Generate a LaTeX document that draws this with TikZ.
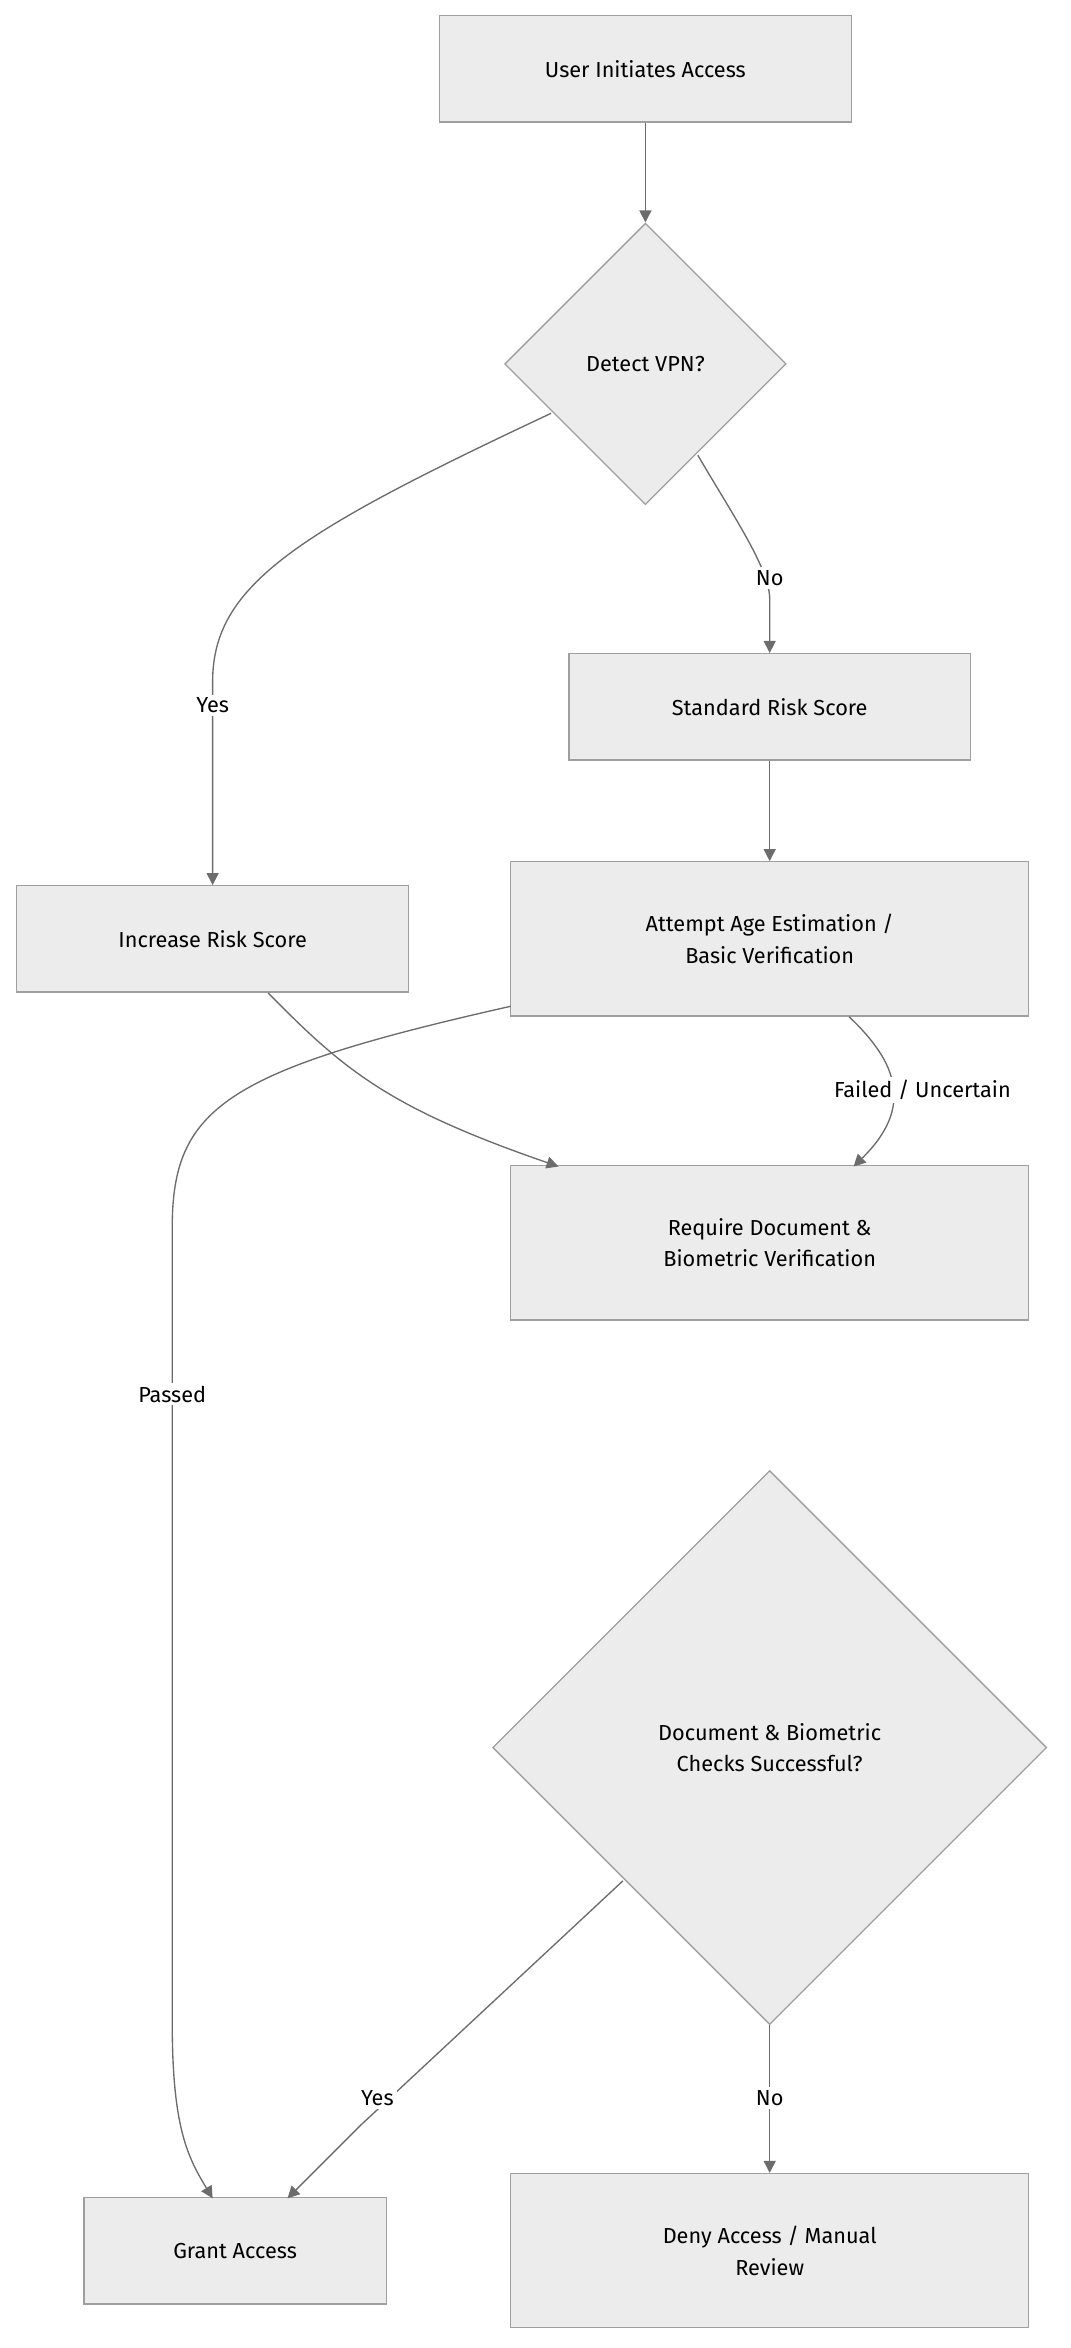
\documentclass[tikz,border=0pt]{standalone}
\usepackage{fontspec}
\setmainfont{Fira Sans}
\usetikzlibrary{shapes.geometric,arrows.meta}
\begin{document}
\begin{tikzpicture}[x=1pt,y=-1pt,
  every node/.style={font=\fontsize{14.5}{21}\selectfont,align=center,text=black},
  box/.style={draw=gray!75,fill=gray!15,line width=0.9pt,minimum height=71pt},
  dia/.style={draw=gray!75,fill=gray!15,line width=0.9pt,diamond,inner sep=0pt},
  edge/.style={draw=gray!85!black,line width=0.9pt,-{Triangle[length=8pt,width=8pt]}},
  lbl/.style={fill=white,inner sep=2pt}]
\useasboundingbox (0,0) rectangle (715,1568);
\node[box,minimum width=275pt] (user) at (431,46) {User Initiates Access};
\node[dia,minimum width=188pt,minimum height=188pt] (vpn) at (431,243) {Detect VPN?};
\node[box,minimum width=268pt] (std) at (514,472) {Standard Risk Score};
\node[box,minimum width=262pt] (inc) at (142,627) {Increase Risk Score};
\node[box,minimum width=346pt,minimum height=103pt] (age) at (514,627) {Attempt Age Estimation /\\Basic Verification};
\node[box,minimum width=346pt,minimum height=103pt] (req) at (514,830) {Require Document \&\\Biometric Verification};
\node[dia,minimum width=370pt,minimum height=370pt] (chk) at (514,1167) {Document \& Biometric\\Checks Successful?};
\node[box,minimum width=202pt] (grant) at (157,1503) {Grant Access};
\node[box,minimum width=346pt,minimum height=103pt] (deny) at (514,1503) {Deny Access / Manual\\Review};

\draw[edge] (user) -- (vpn);
\draw[edge] (368,276) .. controls (200,355) and (142,390) .. (142,455) -- (inc.north);
\node[lbl] at (142,471) {Yes};
\draw[edge] (466,304) .. controls (490,345) and (514,380) .. (514,400) -- (std.north);
\node[lbl] at (514,386) {No};
\draw[edge] (std) -- (age);
\draw[edge] (179,663) .. controls (230,715) and (260,740) .. (373,779);
\draw[edge] (567,679) .. controls (600,710) and (610,740) .. (570,779);
\node[lbl] at (616,728) {Failed / Uncertain};
\draw[edge] (341,672) .. controls (150,715) and (115,740) .. (115,820) -- (115,1350) .. controls (115,1420) and (125,1440) .. (142,1468);
\node[lbl] at (115,931) {Passed};
\draw[edge] (416,1256) -- (240,1420) .. controls (220,1440) and (205,1455) .. (192,1468);
\node[lbl] at (252,1401) {Yes};
\draw[edge] (chk.south) -- (deny.north);
\node[lbl] at (514,1401) {No};
\end{tikzpicture}
\end{document}
